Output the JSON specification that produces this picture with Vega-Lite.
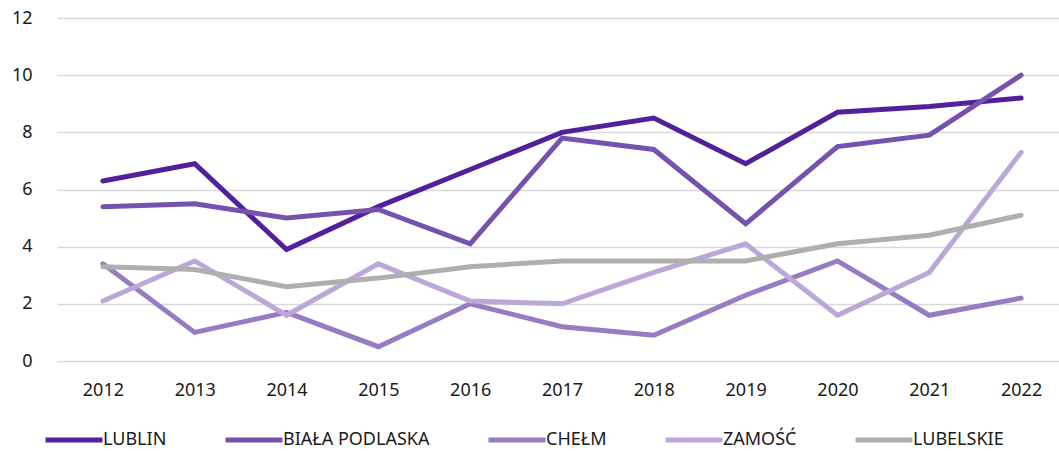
{
  "$schema": "https://vega.github.io/schema/vega-lite/v6.json",
  "width": 1010,
  "height": 343,
  "autosize": {"type": "none"},
  "padding": {"left": 57, "top": 18, "right": 0, "bottom": 90},
  "background": "white",
  "config": {
    "view": {"stroke": null},
    "font": "Noto Sans",
    "axis": {"labelFont": "Noto Sans", "labelFontSize": 18, "labelColor": "#1a1a1a"},
    "legend": {"labelFont": "Noto Sans", "labelFontSize": 18, "labelColor": "#1a1a1a"}
  },
  "data": {
    "values": [
      {"rok": "2012", "seria": "LUBLIN", "v": 6.3},
      {"rok": "2013", "seria": "LUBLIN", "v": 6.9},
      {"rok": "2014", "seria": "LUBLIN", "v": 3.9},
      {"rok": "2015", "seria": "LUBLIN", "v": 5.4},
      {"rok": "2016", "seria": "LUBLIN", "v": 6.7},
      {"rok": "2017", "seria": "LUBLIN", "v": 8.0},
      {"rok": "2018", "seria": "LUBLIN", "v": 8.5},
      {"rok": "2019", "seria": "LUBLIN", "v": 6.9},
      {"rok": "2020", "seria": "LUBLIN", "v": 8.7},
      {"rok": "2021", "seria": "LUBLIN", "v": 8.9},
      {"rok": "2022", "seria": "LUBLIN", "v": 9.2},
      {"rok": "2012", "seria": "BIAŁA PODLASKA", "v": 5.4},
      {"rok": "2013", "seria": "BIAŁA PODLASKA", "v": 5.5},
      {"rok": "2014", "seria": "BIAŁA PODLASKA", "v": 5.0},
      {"rok": "2015", "seria": "BIAŁA PODLASKA", "v": 5.3},
      {"rok": "2016", "seria": "BIAŁA PODLASKA", "v": 4.1},
      {"rok": "2017", "seria": "BIAŁA PODLASKA", "v": 7.8},
      {"rok": "2018", "seria": "BIAŁA PODLASKA", "v": 7.4},
      {"rok": "2019", "seria": "BIAŁA PODLASKA", "v": 4.8},
      {"rok": "2020", "seria": "BIAŁA PODLASKA", "v": 7.5},
      {"rok": "2021", "seria": "BIAŁA PODLASKA", "v": 7.9},
      {"rok": "2022", "seria": "BIAŁA PODLASKA", "v": 10.0},
      {"rok": "2012", "seria": "CHEŁM", "v": 3.4},
      {"rok": "2013", "seria": "CHEŁM", "v": 1.0},
      {"rok": "2014", "seria": "CHEŁM", "v": 1.7},
      {"rok": "2015", "seria": "CHEŁM", "v": 0.5},
      {"rok": "2016", "seria": "CHEŁM", "v": 2.0},
      {"rok": "2017", "seria": "CHEŁM", "v": 1.2},
      {"rok": "2018", "seria": "CHEŁM", "v": 0.9},
      {"rok": "2019", "seria": "CHEŁM", "v": 2.3},
      {"rok": "2020", "seria": "CHEŁM", "v": 3.5},
      {"rok": "2021", "seria": "CHEŁM", "v": 1.6},
      {"rok": "2022", "seria": "CHEŁM", "v": 2.2},
      {"rok": "2012", "seria": "ZAMOŚĆ", "v": 2.1},
      {"rok": "2013", "seria": "ZAMOŚĆ", "v": 3.5},
      {"rok": "2014", "seria": "ZAMOŚĆ", "v": 1.6},
      {"rok": "2015", "seria": "ZAMOŚĆ", "v": 3.4},
      {"rok": "2016", "seria": "ZAMOŚĆ", "v": 2.1},
      {"rok": "2017", "seria": "ZAMOŚĆ", "v": 2.0},
      {"rok": "2018", "seria": "ZAMOŚĆ", "v": 3.1},
      {"rok": "2019", "seria": "ZAMOŚĆ", "v": 4.1},
      {"rok": "2020", "seria": "ZAMOŚĆ", "v": 1.6},
      {"rok": "2021", "seria": "ZAMOŚĆ", "v": 3.1},
      {"rok": "2022", "seria": "ZAMOŚĆ", "v": 7.3},
      {"rok": "2012", "seria": "LUBELSKIE", "v": 3.3},
      {"rok": "2013", "seria": "LUBELSKIE", "v": 3.2},
      {"rok": "2014", "seria": "LUBELSKIE", "v": 2.6},
      {"rok": "2015", "seria": "LUBELSKIE", "v": 2.9},
      {"rok": "2016", "seria": "LUBELSKIE", "v": 3.3},
      {"rok": "2017", "seria": "LUBELSKIE", "v": 3.5},
      {"rok": "2018", "seria": "LUBELSKIE", "v": 3.5},
      {"rok": "2019", "seria": "LUBELSKIE", "v": 3.5},
      {"rok": "2020", "seria": "LUBELSKIE", "v": 4.1},
      {"rok": "2021", "seria": "LUBELSKIE", "v": 4.4},
      {"rok": "2022", "seria": "LUBELSKIE", "v": 5.1}
    ]
  },
  "mark": {"type": "line", "strokeWidth": 5, "strokeCap": "round", "strokeJoin": "miter"},
  "encoding": {
    "x": {
      "field": "rok", "type": "ordinal",
      "scale": {"type": "point", "padding": 0.5},
      "axis": {"title": null, "labelAngle": 0, "domain": false, "ticks": false, "grid": false, "labelPadding": 20}
    },
    "y": {
      "field": "v", "type": "quantitative",
      "scale": {"domain": [0, 12], "nice": false},
      "axis": {"title": null, "values": [0, 2, 4, 6, 8, 10, 12], "domain": false, "ticks": false, "labelPadding": 25, "gridColor": "#d9d9d9", "gridWidth": 1.5}
    },
    "color": {
      "field": "seria", "type": "nominal",
      "scale": {
        "domain": ["LUBLIN", "BIAŁA PODLASKA", "CHEŁM", "ZAMOŚĆ", "LUBELSKIE"],
        "range": ["#52209a", "#7452ae", "#977cc3", "#bba8d8", "#afafaf"]
      },
      "legend": {
        "title": null, "orient": "none", "direction": "horizontal",
        "legendX": -14, "legendY": 391,
        "symbolType": "stroke", "symbolSize": 3249, "symbolStrokeWidth": 5,
        "labelOffset": -2, "columnPadding": 48
      }
    },
    "order": {"field": "seria"}
  }
}
